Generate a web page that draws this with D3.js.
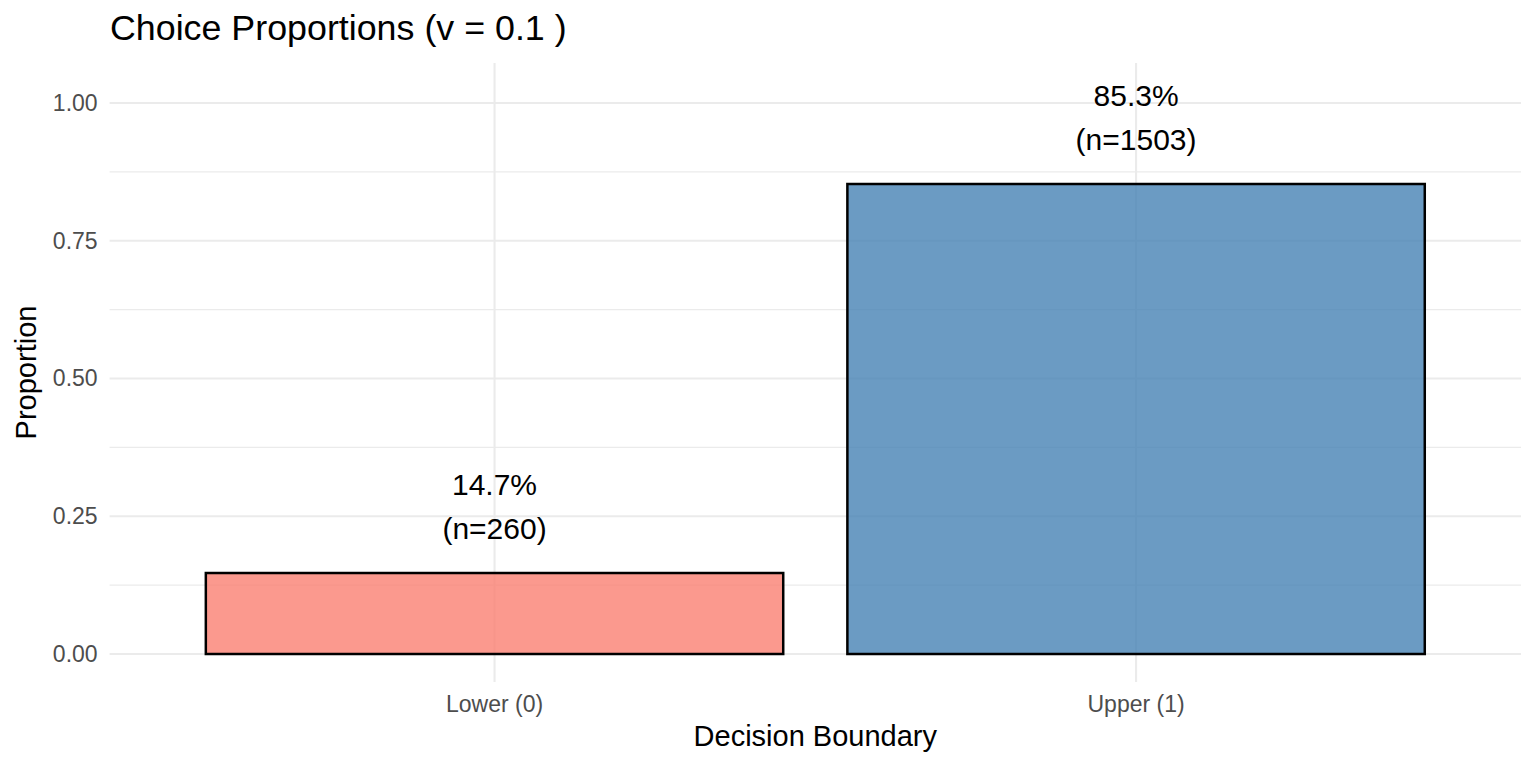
<!DOCTYPE html>
<html><head><meta charset="utf-8">
<script src="https://cdn.jsdelivr.net/npm/d3@7"></script>
<style>body{margin:0;background:#fff}svg{display:block}text{font-family:"Liberation Sans",Arial,sans-serif}</style>
</head><body>
<svg id="c" width="1536" height="768"></svg>
<script>
const categories = ["Lower (0)", "Upper (1)"];
const proportions = [0.147, 0.853];
const counts = [260, 1503];
const fills = ["#FA8072", "#4682B4"];
const yTicks = [0, 0.25, 0.5, 0.75, 1.0];
const yMinor = [0.125, 0.375, 0.625, 0.875];
const titleText = "Choice Proportions (v = 0.1 )";

const svg = d3.select("#c");
const L = 109.6, R = 1521, T = 63, B = 682;
const x = d3.scaleBand().domain(categories).range([L, R]).paddingInner(0.1).paddingOuter(0.15);
const y = d3.scaleLinear().domain([-0.0508, 1.0726]).range([B, T]);

const g = svg.append("g");
g.selectAll(".ym").data(yMinor).join("line")
  .attr("x1", L).attr("x2", R).attr("y1", d => y(d)).attr("y2", d => y(d))
  .attr("stroke", "#EBEBEB").attr("stroke-width", 1.1);
g.selectAll(".yM").data(yTicks).join("line")
  .attr("x1", L).attr("x2", R).attr("y1", d => y(d)).attr("y2", d => y(d))
  .attr("stroke", "#EBEBEB").attr("stroke-width", 2.1);
g.selectAll(".xM").data(categories).join("line")
  .attr("x1", d => x(d) + x.bandwidth()/2).attr("x2", d => x(d) + x.bandwidth()/2)
  .attr("y1", T).attr("y2", B)
  .attr("stroke", "#EBEBEB").attr("stroke-width", 2.1);

const data = categories.map((c, i) => ({c, p: proportions[i], n: counts[i], f: fills[i]}));
g.selectAll(".bar").data(data).join("rect")
  .attr("x", d => x(d.c)).attr("width", x.bandwidth())
  .attr("y", d => y(d.p)).attr("height", d => y(0) - y(d.p))
  .attr("fill", d => d.f).attr("fill-opacity", 0.8)
  .attr("stroke", "#000").attr("stroke-width", 2.5);

const lab = g.selectAll(".lab").data(data).join("text")
  .attr("text-anchor", "middle").attr("font-size", 30).attr("fill", "#000");
lab.append("tspan").attr("x", d => x(d.c) + x.bandwidth()/2).attr("y", d => y(d.p) - 78)
  .text(d => (d.p*100).toFixed(1) + "%");
lab.append("tspan").attr("x", d => x(d.c) + x.bandwidth()/2).attr("y", d => y(d.p) - 34)
  .text(d => "(n=" + d.n + ")");

const yAxis = d3.axisLeft(y).tickValues(yTicks).tickFormat(d3.format(".2f")).tickSize(0).tickPadding(12);
const ya = svg.append("g").attr("transform", `translate(${L},0)`).call(yAxis);
ya.select(".domain").remove();
ya.selectAll("text").attr("font-size", 23).attr("fill", "#4D4D4D").attr("font-family", '"Liberation Sans",Arial,sans-serif');

const xAxis = d3.axisBottom(x).tickSize(0).tickPadding(14);
const xa = svg.append("g").attr("transform", `translate(0,${B})`).call(xAxis);
xa.select(".domain").remove();
xa.selectAll("text").attr("font-size", 23).attr("fill", "#4D4D4D").attr("font-family", '"Liberation Sans",Arial,sans-serif');

svg.append("text").attr("x", 110).attr("y", 40).attr("font-size", 35.8).attr("fill", "#000").text(titleText);
svg.append("text").attr("x", (L+R)/2).attr("y", 746).attr("text-anchor", "middle").attr("font-size", 29).attr("fill", "#000").text("Decision Boundary");
svg.append("text").attr("transform", `translate(36,${(T+B)/2}) rotate(-90)`).attr("text-anchor", "middle").attr("font-size", 29).attr("fill", "#000").text("Proportion");
</script>
</body></html>
